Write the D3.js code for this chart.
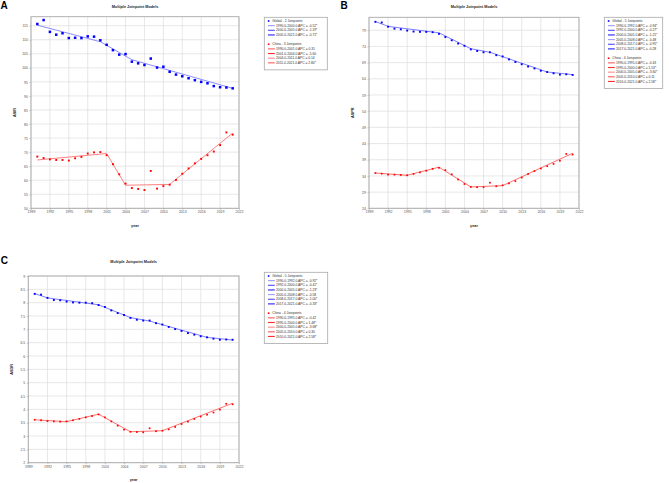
<!DOCTYPE html>
<html>
<head>
<meta charset="utf-8">
<script src="https://cdn.jsdelivr.net/npm/d3@7"></script>
<style>
  body { margin: 0; background: #fff; }
  svg { display: block; font-family: 'Liberation Sans', Arial, sans-serif; }
</style>
</head>
<body>
<div id="chart"></div>
<script>
// years and x ticks shared by all three panels
const years = [1990, 1991, 1992, 1993, 1994, 1995, 1996, 1997, 1998, 1999, 2000, 2001, 2002, 2003, 2004, 2005,
  2006, 2007, 2008, 2009, 2010, 2011, 2012, 2013, 2014, 2015, 2016, 2017, 2018, 2019, 2020, 2021]
const xTicks = [1989, 1992, 1995, 1998, 2001, 2004, 2007, 2010, 2013, 2016, 2019, 2022]

// panel A
const asirGlobal = [115.6, 117.0, 112.8, 111.8, 112.3, 110.6, 110.7, 110.6, 111.2, 111.1, 109.8, 108.2, 106.3, 104.7,
  104.9, 102.2, 101.6, 101.0, 103.3, 100.1, 100.4, 98.6, 97.6, 97.0, 96.3, 95.6, 95.0, 94.5, 93.5, 93.1, 93.0, 92.7]
const asirChina = [68.4, 67.9, 67.4, 67.2, 67.2, 67.0, 67.8, 68.3, 69.5, 69.9, 70.0, 68.9, 65.7, 62.1, 58.8, 57.2,
  56.9, 56.5, 63.3, 57.0, 57.9, 58.4, 60.1, 62.3, 64.2, 66.0, 67.6, 68.9, 70.2, 72.5, 77.0, 76.2]
const asirGlobalFitYears = [1990, 2000, 2005, 2021]
const asirGlobalFit = [115.2, 109.3, 102.9, 92.7]
const asirChinaFitYears = [1990, 2001, 2004, 2011, 2021]
const asirChinaFit = [67.2, 69.5, 58.2, 58.5, 76.8]
const asirTicks = [50, 55, 60, 65, 70, 75, 80, 85, 90, 95, 100, 105, 110, 115]
const asirGlobalLegend = ['1990.0-2000.0 APC = -0.52*', '2000.0-2005.0 APC = -1.19*', '2005.0-2021.0 APC = -0.71*']
const asirChinaLegend = ['1990.0-2001.0 APC = 0.31', '2001.0-2004.0 APC = -5.60', '2004.0-2011.0 APC = 0.14',
  '2011.0-2021.0 APC = 2.80*']

// panel B
const asprGlobal = [81.6, 81.4, 80.1, 79.5, 79.3, 78.9, 78.6, 78.5, 78.5, 78.4, 77.9, 76.9, 75.9, 74.9, 74.2, 73.1,
  72.6, 72.2, 72.2, 71.3, 70.9, 70.0, 69.2, 68.5, 67.8, 67.2, 66.5, 66.1, 65.7, 65.3, 65.4, 65.2]
const asprChina = [34.9, 34.7, 34.4, 34.4, 34.3, 34.2, 34.6, 35.1, 35.6, 36.2, 36.5, 35.8, 34.5, 32.9, 31.5, 30.6,
  30.5, 30.5, 31.9, 30.8, 31.1, 31.7, 32.4, 33.5, 34.6, 35.5, 36.3, 37.0, 37.7, 38.7, 40.8, 40.6]
const asprGlobalFitYears = [1990, 1992, 2000, 2005, 2008, 2017, 2021]
const asprGlobalFit = [81.7, 80.2, 78.2, 73.3, 72.2, 66.1, 65.3]
const asprChinaFitYears = [1990, 1995, 2000, 2005, 2010, 2021]
const asprChinaFit = [34.9, 34.2, 36.7, 30.6, 31.0, 41.0]
const asprTicks = [24, 29, 34, 39, 44, 49, 54, 59, 64, 69, 74, 79]
const asprGlobalLegend = ['1990.0-1992.0 APC = -0.94*', '1992.0-2000.0 APC = -0.27*', '2000.0-2005.0 APC = -1.21*',
  '2005.0-2008.0 APC = -0.48', '2008.0-2017.0 APC = -0.95*', '2017.0-2021.0 APC = -0.28']
const asprChinaLegend = ['1990.0-1995.0 APC = -0.43', '1995.0-2000.0 APC = 1.53*', '2000.0-2005.0 APC = -3.60*',
  '2005.0-2010.0 APC = 0.11', '2010.0-2021.0 APC = 2.58*']

// panel C
const asdrGlobal = [8.33, 8.30, 8.18, 8.10, 8.09, 8.04, 8.01, 8.00, 8.00, 7.98, 7.91, 7.84, 7.71, 7.61, 7.54, 7.43,
  7.36, 7.33, 7.33, 7.23, 7.18, 7.09, 7.01, 6.94, 6.86, 6.80, 6.74, 6.70, 6.65, 6.61, 6.62, 6.61]
const asdrChina = [3.61, 3.59, 3.56, 3.55, 3.54, 3.55, 3.59, 3.64, 3.70, 3.75, 3.81, 3.70, 3.55, 3.39, 3.24, 3.16,
  3.15, 3.14, 3.29, 3.18, 3.20, 3.25, 3.34, 3.45, 3.54, 3.64, 3.73, 3.80, 3.88, 3.99, 4.21, 4.19]
const asdrGlobalFitYears = [1990, 1992, 2000, 2005, 2008, 2017, 2021]
const asdrGlobalFit = [8.34, 8.18, 7.92, 7.44, 7.31, 6.70, 6.60]
const asdrChinaFitYears = [1990, 1995, 2000, 2005, 2010, 2021]
const asdrChinaFit = [3.61, 3.54, 3.82, 3.16, 3.20, 4.23]
const asdrTicks = [2, 2.5, 3, 3.5, 4, 4.5, 5, 5.5, 6, 6.5, 7, 7.5, 8, 8.5, 9]
const asdrGlobalLegend = ['1990.0-1992.0 APC = -0.92*', '1992.0-2000.0 APC = -0.41*', '2000.0-2005.0 APC = -1.23*',
  '2005.0-2008.0 APC = -0.58', '2008.0-2017.0 APC = -1.00*', '2017.0-2021.0 APC = -0.33*']
const asdrChinaLegend = ['1990.0-1995.0 APC = -0.42', '1995.0-2000.0 APC = 1.48*', '2000.0-2005.0 APC = -3.68*',
  '2005.0-2010.0 APC = 0.30', '2010.0-2021.0 APC = 2.58*']

const blueShades = ['#9a9aff', '#4a4aff', '#2020ff']
const redShades = ['#ff5a5a', '#ff2e2e', '#ff8c8c']

const svg = d3
  .select('#chart')
  .append('svg')
  .attr('width', 669)
  .attr('height', 483)

function drawPanel(p) {
  const x = d3.scaleLinear().domain([1989, 2022]).range([p.left, p.right])
  const y = d3.scaleLinear().domain(p.yDomain).range([p.bottom, p.top])
  const g = svg.append('g')

  // panel letter and title
  g.append('text')
    .attr('x', p.letterX)
    .attr('y', p.letterY)
    .text(p.letter)
    .style('font-size', '10px')
    .style('font-weight', 'bold')
  g.append('text')
    .attr('x', (p.left + p.right) / 2)
    .attr('y', p.titleY)
    .attr('text-anchor', 'middle')
    .text('Multiple Joinpoint Models')
    .style('font-size', '3.8px')
    .style('font-weight', 'bold')
    .attr('fill', '#222')

  // grid
  g.append('g')
    .selectAll('line')
    .data(xTicks)
    .enter()
    .append('line')
    .attr('x1', d => x(d))
    .attr('x2', d => x(d))
    .attr('y1', p.top)
    .attr('y2', p.bottom)
    .attr('stroke', '#dcdcdc')
    .attr('stroke-width', 0.7)
  g.append('g')
    .selectAll('line')
    .data(p.yTicks)
    .enter()
    .append('line')
    .attr('x1', p.left)
    .attr('x2', p.right)
    .attr('y1', d => y(d))
    .attr('y2', d => y(d))
    .attr('stroke', '#dcdcdc')
    .attr('stroke-width', 0.7)

  // axes (labels + small ticks)
  const xAxis = g.append('g')
    .attr('transform', `translate(0,${p.bottom})`)
    .call(d3.axisBottom(x).tickValues(xTicks).tickFormat(d3.format('d')).tickSize(1.5).tickPadding(1.2))
  const yAxis = g.append('g')
    .attr('transform', `translate(${p.left},0)`)
    .call(d3.axisLeft(y).tickValues(p.yTicks).tickFormat(d => d).tickSize(1.5).tickPadding(1.5))
  ;[xAxis, yAxis].forEach(a => {
    a.select('.domain').remove()
    a.selectAll('line').attr('stroke', '#888').attr('stroke-width', 0.5)
    a.selectAll('text').style('font-size', '3.5px').attr('fill', '#555').style('font-family', 'Liberation Sans, Arial')
  })

  // frame
  g.append('rect')
    .attr('x', p.left)
    .attr('y', p.top)
    .attr('width', p.right - p.left)
    .attr('height', p.bottom - p.top)
    .attr('fill', 'none')
    .attr('stroke', '#a8a8a8')
    .attr('stroke-width', 0.9)

  // axis titles
  g.append('text')
    .attr('x', (p.left + p.right) / 2)
    .attr('y', p.bottom + 18.5)
    .attr('text-anchor', 'middle')
    .text('year')
    .style('font-size', '3.8px')
    .style('font-weight', 'bold')
    .attr('fill', '#222')
  g.append('text')
    .attr('transform', `translate(${p.left - 15},${(p.top + p.bottom) / 2}) rotate(-90)`)
    .attr('text-anchor', 'middle')
    .text(p.yLabel)
    .style('font-size', '3.8px')
    .style('font-weight', 'bold')
    .attr('fill', '#222')

  // fitted lines
  const line = d3.line().x(d => x(d[0])).y(d => y(d[1]))
  p.series.forEach(s => {
    const fit = s.fitYears.map((yr, i) => [yr, s.fit[i]])
    g.append('path')
      .attr('d', line(fit))
      .attr('fill', 'none')
      .attr('stroke', s.lineColor)
      .attr('stroke-width', 0.9)
    g.append('g')
      .selectAll('rect')
      .data(s.values)
      .enter()
      .append('rect')
      .attr('x', (d, i) => x(years[i]) - s.size / 2)
      .attr('y', d => y(d) - s.size / 2)
      .attr('width', s.size)
      .attr('height', s.size)
      .attr('fill', s.color)
  })

  // legend
  const L = p.legend
  const lg = g.append('g')
  const step = 4.65
  let rows = []
  p.series.forEach((s, si) => {
    rows.push({ header: true, text: s.header, s })
    s.legend.forEach((t, i) => rows.push({ header: false, text: t, s, i }))
    if (si === 0) rows.push(null)
  })
  const h = (rows.length - 1) * step + 3.7 + 7
  lg.append('rect')
    .attr('x', L.x)
    .attr('y', L.y)
    .attr('width', L.w)
    .attr('height', h)
    .attr('fill', '#fff')
    .attr('stroke', '#a8a8a8')
    .attr('stroke-width', 0.8)
  rows.forEach((r, k) => {
    if (!r) return
    const cy = L.y + 3.7 + k * step
    if (r.header) {
      lg.append('rect')
        .attr('x', L.x + 4.3 - 0.8)
        .attr('y', cy - 0.8)
        .attr('width', 1.6)
        .attr('height', 1.6)
        .attr('fill', r.s.color)
      lg.append('text')
        .attr('x', L.x + 8)
        .attr('y', cy + 1.1)
        .text(r.text)
        .style('font-size', '3.3px')
        .attr('fill', '#333')
    } else {
      lg.append('line')
        .attr('x1', L.x + 3.7)
        .attr('x2', L.x + 10.5)
        .attr('y1', cy)
        .attr('y2', cy)
        .attr('stroke', r.s.shades[r.i % 3])
        .attr('stroke-width', 1.1)
      lg.append('text')
        .attr('x', L.x + 11.7)
        .attr('y', cy + 1.1)
        .text(r.text)
        .style('font-size', '3.3px')
        .attr('fill', '#333')
    }
  })
}

drawPanel({
  letter: 'A', letterX: 0.5, letterY: 9.3, titleY: 7.8,
  left: 31, top: 16.7, right: 239, bottom: 208.3,
  yDomain: [50, 118.2], yTicks: asirTicks, yLabel: 'ASIR',
  legend: { x: 264.3, y: 17.3, w: 63 },
  series: [
    { header: 'Global - 2 Joinpoints', values: asirGlobal, fitYears: asirGlobalFitYears, fit: asirGlobalFit,
      legend: asirGlobalLegend, color: '#0000ff', lineColor: '#8080ff', shades: blueShades, size: 2.5 },
    { header: 'China - 3 Joinpoints', values: asirChina, fitYears: asirChinaFitYears, fit: asirChinaFit,
      legend: asirChinaLegend, color: '#ff0000', lineColor: '#ff7070', shades: redShades, size: 1.9 }
  ]
})

drawPanel({
  letter: 'B', letterX: 340.5, letterY: 9.3, titleY: 7.8,
  left: 369, top: 17.3, right: 579, bottom: 208.3,
  yDomain: [24, 83], yTicks: asprTicks, yLabel: 'ASPR',
  legend: { x: 604.3, y: 17.3, w: 58.4 },
  series: [
    { header: 'Global - 5 Joinpoints', values: asprGlobal, fitYears: asprGlobalFitYears, fit: asprGlobalFit,
      legend: asprGlobalLegend, color: '#0000ff', lineColor: '#7070ff', shades: blueShades, size: 1.9 },
    { header: 'China - 4 Joinpoints', values: asprChina, fitYears: asprChinaFitYears, fit: asprChinaFit,
      legend: asprChinaLegend, color: '#ff0000', lineColor: '#ff6060', shades: redShades, size: 1.7 }
  ]
})

drawPanel({
  letter: 'C', letterX: 0.8, letterY: 263.6, titleY: 263.2,
  left: 28.3, top: 276, right: 239, bottom: 462.7,
  yDomain: [2, 9], yTicks: asdrTicks, yLabel: 'ASDR',
  legend: { x: 264.3, y: 272.3, w: 63.4 },
  series: [
    { header: 'Global - 5 Joinpoints', values: asdrGlobal, fitYears: asdrGlobalFitYears, fit: asdrGlobalFit,
      legend: asdrGlobalLegend, color: '#0000ff', lineColor: '#7070ff', shades: blueShades, size: 1.9 },
    { header: 'China - 4 Joinpoints', values: asdrChina, fitYears: asdrChinaFitYears, fit: asdrChinaFit,
      legend: asdrChinaLegend, color: '#ff0000', lineColor: '#ff6060', shades: redShades, size: 1.7 }
  ]
})
</script>
</body>
</html>
